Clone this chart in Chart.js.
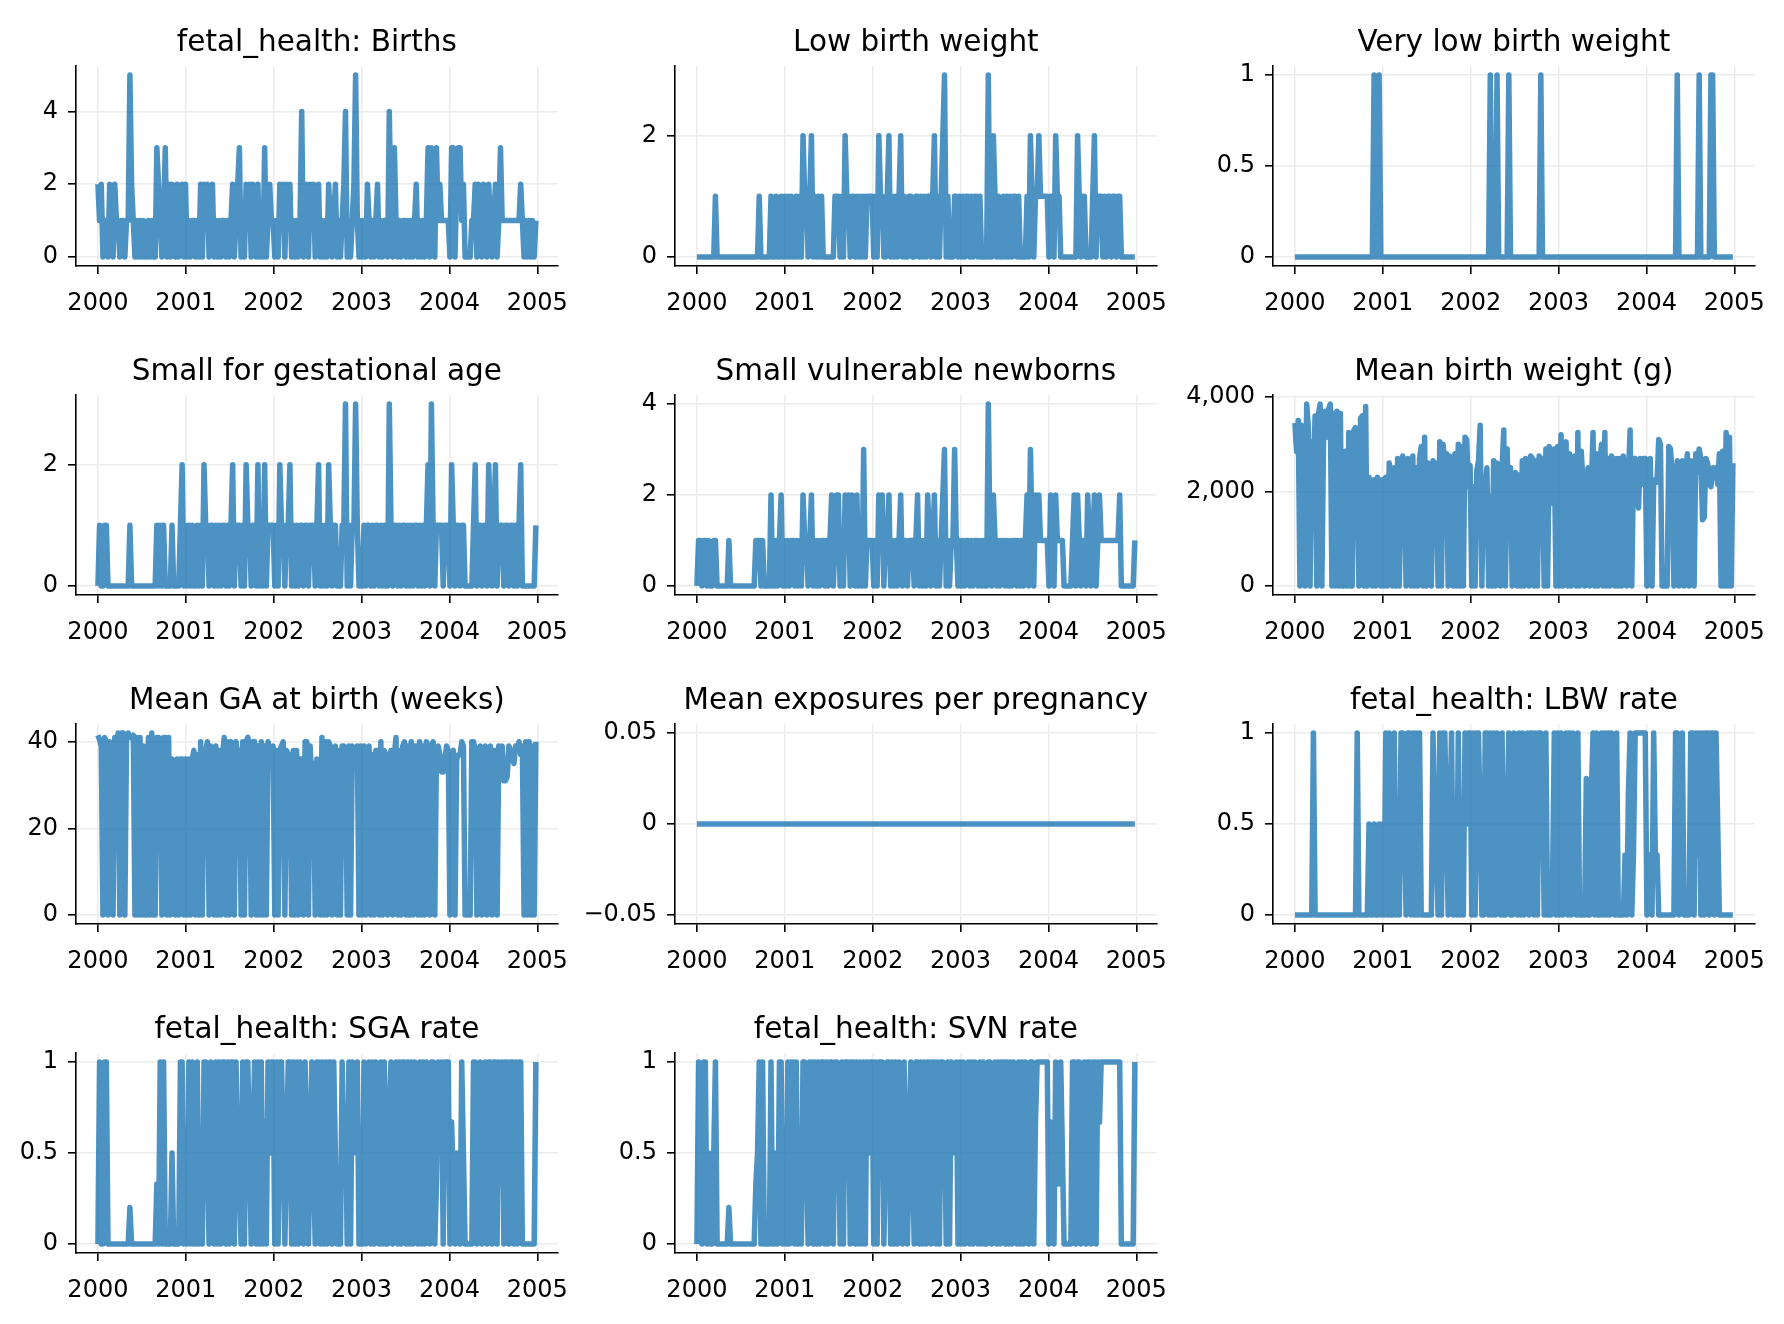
<!DOCTYPE html>
<html>
<head>
<meta charset="utf-8">
<title>fetal_health weekly series</title>
<script src="https://cdn.jsdelivr.net/npm/chart.js@4.4.1/dist/chart.umd.min.js"></script>
<style>
  html, body { margin: 0; padding: 0; background: #fff; overflow: hidden; }
  #page { position: relative; width: 1784px; height: 1324px; }
  #page canvas { position: absolute; }
</style>
</head>
<body>
<div id="page"></div>
<script>
// weekly values, one row per year (2000 ... 2004), last row has the closing week
const births = [
  2,1,2,0,1,1,0,2,1,0, 2,1,1,0,1,1,0,1,1,5, 2,1,0,1,0,1,0,1,0,0, 1,0,1,0,0,3,2,1,0,1, 3,0,2,0,2,1,0,2,0,1, 2,0,
  2,0,1,0,1,1,0,1,0,2, 0,2,1,2,0,1,2,0,1,0, 1,0,1,1,0,1,0,1,2,0, 1,2,3,0,1,0,2,1,2,0, 2,1,0,2,0,1,0,3,0,1, 2,1,
  1,0,1,0,2,1,2,0,2,1, 2,0,1,0,1,0,1,4,0,1, 2,0,2,1,2,0,1,2,0,1, 0,1,0,2,1,0,1,2,0,1, 0,1,2,4,0,1,0,1,2,5, 1,0,
  1,0,1,0,2,1,0,1,0,1, 2,0,1,0,1,1,0,4,1,0, 3,1,0,1,0,1,1,0,1,0, 1,0,1,2,0,1,0,1,0,1, 3,0,3,1,0,3,1,2,1,1, 1,1,
  1,0,3,3,0,2,3,3,1,2, 0,0,0,0,1,1,2,0,2,1, 0,2,1,0,2,1,0,1,2,0, 1,3,1,1,1,1,1,1,1,1, 1,1,1,2,1,0,1,0,1,0, 1,0,1
];

const lowBirthWeight = [
  0,0,0,0,0,0,0,0,0,0, 0,1,0,0,0,0,0,0,0,0, 0,0,0,0,0,0,0,0,0,0, 0,0,0,0,0,0,0,1,0,0, 0,0,0,0,1,0,0,1,0,0, 1,0,
  1,0,1,0,1,0,0,1,0,1, 0,2,1,1,0,1,2,0,1,0, 1,0,1,0,0,0,0,0,0,0, 1,1,1,0,1,0,2,1,1,0, 1,1,0,1,0,1,0,1,0,1, 1,1,
  1,0,1,0,2,1,1,0,0,1, 2,0,1,0,1,0,1,2,0,1, 0,0,1,1,0,0,1,1,0,1, 0,1,0,1,1,0,1,2,0,1, 0,1,2,3,0,1,0,0,0,1, 1,0,
  1,0,1,0,1,1,0,1,0,1, 1,0,1,0,0,0,0,3,0,0, 2,1,0,1,0,0,1,0,1,0, 1,0,1,1,0,1,0,0,0,0, 1,0,2,1,0,1,1,2,1,1, 1,1,
  1,0,1,1,0,2,1,1,0,0, 0,0,0,0,0,0,0,0,2,1, 0,1,1,0,0,0,0,1,2,0, 1,1,1,0,1,0,1,1,0,1, 1,0,1,1,0,0,0,0,0,0, 0,0,0
];

const veryLowBirthWeight = [
  0,0,0,0,0,0,0,0,0,0, 0,0,0,0,0,0,0,0,0,0, 0,0,0,0,0,0,0,0,0,0, 0,0,0,0,0,0,0,0,0,0, 0,0,0,0,0,0,0,1,0,0, 1,0,
  0,0,0,0,0,0,0,0,0,0, 0,0,0,0,0,0,0,0,0,0, 0,0,0,0,0,0,0,0,0,0, 0,0,0,0,0,0,0,0,0,0, 0,0,0,0,0,0,0,0,0,0, 0,0,
  0,0,0,0,0,0,0,0,0,0, 0,0,1,0,0,0,1,0,0,0, 0,0,0,1,0,0,0,0,0,0, 0,0,0,0,0,0,0,0,0,0, 0,0,1,0,0,0,0,0,0,0, 0,0,
  0,0,0,0,0,0,0,0,0,0, 0,0,0,0,0,0,0,0,0,0, 0,0,0,0,0,0,0,0,0,0, 0,0,0,0,0,0,0,0,0,0, 0,0,0,0,0,0,0,0,0,0, 0,0,
  0,0,0,0,0,0,0,0,0,0, 0,0,0,0,0,0,0,0,0,1, 0,0,0,0,0,0,0,0,0,0, 0,0,1,0,0,0,0,0,0,1, 1,0,0,0,0,0,0,0,0,0, 0,0,0
];

const smallForGA = [
  0,1,0,0,1,1,0,0,0,0, 0,0,0,0,0,0,0,0,0,1, 0,0,0,0,0,0,0,0,0,0, 0,0,0,0,0,1,0,1,0,1, 0,0,0,0,1,0,0,0,0,1, 2,0,
  1,0,1,0,1,0,0,1,0,1, 0,2,1,1,0,1,1,0,1,0, 1,0,1,1,0,1,0,1,2,0, 1,1,1,0,1,0,2,1,1,0, 1,1,0,2,0,1,0,2,0,1, 1,1,
  1,0,1,0,2,1,1,0,1,1, 2,0,1,0,1,0,1,1,0,1, 1,0,1,1,1,0,1,2,0,1, 0,1,0,2,1,0,1,1,0,0, 0,1,1,3,0,1,0,1,1,3, 1,0,
  0,0,1,0,1,1,0,1,0,1, 1,0,1,0,1,0,0,3,1,0, 1,1,0,1,0,1,1,0,1,0, 1,0,1,1,0,1,0,1,0,1, 2,0,3,1,0,1,1,1,1,0, 1,1,
  1,0,2,1,0,1,1,0,1,1, 0,0,0,0,0,1,2,0,1,1, 0,1,1,0,2,1,0,1,2,0, 1,1,1,0,1,1,0,1,1,0, 1,0,1,2,0,0,0,0,0,0, 0,0,1
];

const smallVulnerable = [
  0,1,1,0,1,1,0,1,0,0, 1,1,0,0,0,0,0,0,0,1, 0,0,0,0,0,0,0,0,0,0, 0,0,0,0,0,1,1,1,0,1, 0,0,0,0,2,0,0,1,0,1, 2,0,
  1,0,1,0,1,1,0,1,0,1, 0,2,1,1,0,1,2,0,1,0, 1,0,1,1,0,1,0,1,2,0, 1,2,2,0,1,0,2,1,2,0, 2,1,0,2,0,1,0,3,0,1, 1,1,
  1,0,1,0,2,1,2,0,1,1, 2,0,1,0,1,0,1,2,0,1, 1,0,1,1,1,0,1,2,0,1, 0,1,0,2,1,0,1,2,0,1, 0,1,2,3,0,1,0,1,1,3, 1,0,
  1,0,1,0,1,1,0,1,0,1, 1,0,1,0,1,0,0,4,1,0, 2,1,0,1,0,1,1,0,1,0, 1,0,1,1,0,1,0,1,0,1, 2,0,3,1,0,2,1,2,1,1, 1,1,
  1,0,2,1,0,2,1,1,1,1, 0,0,0,0,0,1,2,0,2,1, 0,1,1,0,2,1,0,1,2,0, 1,2,1,1,1,1,1,1,1,1, 1,1,1,2,0,0,0,0,0,0, 0,0,1
];

const meanBirthWeight = [
  3450,2850,3500,0,3400,3300,0,3850,3350,0, 3050,2400,3600,0,3650,3850,0,3100,3700,3150,
  3750,3850,0,3650,0,3700,0,3650,0,0, 2850,0,3250,0,0,3300,3350,2400,0,3550,
  3600,0,3800,0,2300,2050,0,2250,0,2300, 2200,0,
  2250,0,2300,0,2600,2350,0,2500,0,2700, 0,2450,2750,2300,0,2700,2650,0,2750,0,
  2500,0,2700,2950,0,3150,0,2600,2550,0, 2650,2600,2100,0,3050,0,3000,2600,2800,0,
  2750,2650,0,2800,0,3000,0,2950,0,3150, 3100,2100,
  2550,0,2100,0,2450,2650,3400,0,2200,2100, 2500,0,1900,0,2650,0,2600,2250,0,2500,
  3300,0,2900,1300,2500,0,2300,2400,0,2350, 0,2650,0,2700,2650,0,2750,2700,0,2650,
  0,2750,2700,2200,0,2900,0,2950,2850,1750, 2900,0,
  2950,0,3200,0,2900,3050,0,2800,0,2150, 2750,0,3250,0,2850,2200,0,1900,2500,0,
  2100,3250,0,2800,0,2500,3000,0,3250,0, 2700,0,2750,2650,0,2700,0,2700,0,2750,
  2400,0,2300,3300,0,2500,2700,2600,1650,2700, 2150,2700,
  2700,0,2100,2700,0,2150,2250,2200,3100,3000, 0,0,0,0,2950,2900,2300,0,2150,2650,
  0,2200,2650,0,2300,2800,0,2650,2200,0, 2800,2400,2900,2700,1400,1450,2700,2600,2150,2100,
  2500,2400,2500,2150,2800,0,2850,0,3250,0, 3150,0,2600
];

const meanGA = [
  41.5,40.5,39,0,41,40,0,40,39,0, 41,38,42,0,42,42,0,41,42,41, 41,41.5,0,41,0,41,0,39,0,0,
  41,0,42,0,0,41,41,39,0,41, 41,0,41,0,36,35,0,36,0,36, 36,0,
  36,0,36,0,36,38,0,37,0,40, 0,38,38,40,0,39,38,0,39,0, 38,0,37,41,0,40,0,40,38,0,
  40,37,38,0,40,0,40,41,39,0, 40,40,0,39,0,40,0,39,0,40, 38,38,
  39,0,38,0,38,39,40,0,38,37, 37,0,38,0,38,0,36,36,0,40, 40,0,39,31,35,0,36,35,0,41,
  0,40,0,40,39,0,38,39,0,38, 0,39,39,37,0,39,0,39,38,36, 39,0,
  39,0,39,0,38,39,0,37,0,38, 38,0,40,0,38,37,0,35,38,0, 37,41,0,38,0,39,40,0,39,0,
  40,0,39,39,0,40,0,39,0,40, 39,0,39,40,0,38,39,37,33,33, 36,39,
  38,0,37,38,0,36,37,37,40,39, 0,0,0,0,40,40,38,0,38,39, 0,38,39,0,38,39,0,38,38,0,
  39,37,39,31,31,32,39,38,36,35, 39,38,40,37,39,0,40,0,40,0, 39,0,40
];

const meanExposures = [
  0,0,0,0,0,0,0,0,0,0, 0,0,0,0,0,0,0,0,0,0, 0,0,0,0,0,0,0,0,0,0, 0,0,0,0,0,0,0,0,0,0, 0,0,0,0,0,0,0,0,0,0, 0,0,
  0,0,0,0,0,0,0,0,0,0, 0,0,0,0,0,0,0,0,0,0, 0,0,0,0,0,0,0,0,0,0, 0,0,0,0,0,0,0,0,0,0, 0,0,0,0,0,0,0,0,0,0, 0,0,
  0,0,0,0,0,0,0,0,0,0, 0,0,0,0,0,0,0,0,0,0, 0,0,0,0,0,0,0,0,0,0, 0,0,0,0,0,0,0,0,0,0, 0,0,0,0,0,0,0,0,0,0, 0,0,
  0,0,0,0,0,0,0,0,0,0, 0,0,0,0,0,0,0,0,0,0, 0,0,0,0,0,0,0,0,0,0, 0,0,0,0,0,0,0,0,0,0, 0,0,0,0,0,0,0,0,0,0, 0,0,
  0,0,0,0,0,0,0,0,0,0, 0,0,0,0,0,0,0,0,0,0, 0,0,0,0,0,0,0,0,0,0, 0,0,0,0,0,0,0,0,0,0, 0,0,0,0,0,0,0,0,0,0, 0,0,0
];

const lbwRate = [
  0,0,0,0,0,0,0,0,0,0, 0,1,0,0,0,0,0,0,0,0, 0,0,0,0,0,0,0,0,0,0, 0,0,0,0,0,0,0,1,0,0, 0,0,0,0,0.5,0,0,0.5,0,0, 0.5,0,
  0.5,0,1,0,1,0,0,1,0,0.5, 0,1,1,0.5,0,1,1,0,1,0, 1,0,1,0,0,0,0,0,0,0, 1,0.5,0.33,0,1,0,1,1,0.5,0, 0.5,1,0,0.5,0,1,0,0.33,0,1, 0.5,1,
  1,0,1,0,1,1,0.5,0,0,1, 1,0,1,0,1,0,1,0.5,0,1, 0,0,0.5,1,0,0,1,0.5,0,1, 0,1,0,0.5,1,0,1,1,0,1, 0,1,1,0.75,0,1,0,0,0,0.2, 1,0,
  1,0,1,0,0.5,1,0,1,0,1, 0.5,0,1,0,0,0,0,0.75,0,0, 0.67,1,0,1,0,0,1,0,1,0, 1,0,1,0.5,0,1,0,0,0,0, 0.33,0,0.67,1,0,0.33,1,1,1,1, 1,1,
  1,0,0.33,0.33,0,1,0.33,0.33,0,0, 0,0,0,0,0,0,0,0,1,1, 0,0.5,1,0,0,0,0,1,1,0, 1,0.33,1,0,1,0,1,1,0,1, 1,0,1,0.5,0,0,0,0,0,0, 0,0,0
];

const sgaRate = [
  0,1,0,0,1,1,0,0,0,0, 0,0,0,0,0,0,0,0,0,0.2, 0,0,0,0,0,0,0,0,0,0, 0,0,0,0,0,0.33,0,1,0,1, 0,0,0,0,0.5,0,0,0,0,1, 1,0,
  0.5,0,1,0,1,0,0,1,0,0.5, 0,1,1,0.5,0,1,0.5,0,1,0, 1,0,1,1,0,1,0,1,1,0, 1,0.5,0.33,0,1,0,1,1,0.5,0, 0.5,1,0,1,0,1,0,0.67,0,1, 0.5,1,
  1,0,1,0,1,1,0.5,0,0.5,1, 1,0,1,0,1,0,1,0.25,0,1, 0.5,0,0.5,1,0.5,0,1,1,0,1, 0,1,0,1,1,0,1,0.5,0,0, 0,1,0.5,0.75,0,1,0,1,0.5,0.6, 1,0,
  0,0,1,0,0.5,1,0,1,0,1, 0.5,0,1,0,1,0,0,0.75,1,0, 0.33,1,0,1,0,1,1,0,1,0, 1,0,1,0.5,0,1,0,1,0,1, 0.67,0,1,1,0,0.33,1,0.5,1,0, 1,1,
  1,0,0.67,0.33,0,0.5,0.33,0,1,0.5, 0,0,0,0,0,1,1,0,0.5,1, 0,0.5,1,0,1,1,0,1,1,0, 1,0.33,1,0,1,1,0,1,1,0, 1,0,1,1,0,0,0,0,0,0, 0,0,1
];

const svnRate = [
  0,1,0.5,0,1,1,0,0.5,0,0, 0.5,1,0,0,0,0,0,0,0,0.2, 0,0,0,0,0,0,0,0,0,0, 0,0,0,0,0,0.33,0.5,1,0,1, 0,0,0,0,1,0,0,0.5,0,1, 1,0,
  0.5,0,1,0,1,1,0,1,0,0.5, 0,1,1,0.5,0,1,1,0,1,0, 1,0,1,1,0,1,0,1,1,0, 1,1,0.67,0,1,0,1,1,1,0, 1,1,0,1,0,1,0,1,0,1, 0.5,1,
  1,0,1,0,1,1,1,0,0.5,1, 1,0,1,0,1,0,1,0.5,0,1, 0.5,0,0.5,1,0.5,0,1,1,0,1, 0,1,0,1,1,0,1,1,0,1, 0,1,1,0.75,0,1,0,1,0.5,0.6, 1,0,
  1,0,1,0,0.5,1,0,1,0,1, 0.5,0,1,0,1,0,0,1,1,0, 0.67,1,0,1,0,1,1,0,1,0, 1,0,1,0.5,0,1,0,1,0,1, 0.67,0,1,1,0,0.67,1,1,1,1, 1,1,
  1,0,0.67,0.33,0,1,0.33,0.33,1,0.5, 0,0,0,0,0,1,1,0,1,1, 0,0.5,1,0,1,1,0,1,1,0, 1,0.67,1,1,1,1,1,1,1,1, 1,1,1,1,0,0,0,0,0,0, 0,0,1
];

// tick labels
const yearTicks = [2000, 2001, 2002, 2003, 2004, 2005];
const ticksCount5 = [0, 2, 4];
const ticksCount3 = [0, 2];
const ticksUnit = [0, 0.5, 1];
const ticksWeight = [0, 2000, 4000];
const ticksGA = [0, 20, 40];
const ticksExposure = [-0.05, 0, 0.05];

const titles = [
  'fetal_health: Births', 'Low birth weight', 'Very low birth weight',
  'Small for gestational age', 'Small vulnerable newborns', 'Mean birth weight (g)',
  'Mean GA at birth (weeks)', 'Mean exposures per pregnancy', 'fetal_health: LBW rate',
  'fetal_health: SGA rate', 'fetal_health: SVN rate'
];
const seriesList = [
  births, lowBirthWeight, veryLowBirthWeight,
  smallForGA, smallVulnerable, meanBirthWeight,
  meanGA, meanExposures, lbwRate,
  sgaRate, svnRate
];
const tickList = [
  ticksCount5, ticksCount3, ticksUnit,
  ticksCount3, ticksCount5, ticksWeight,
  ticksGA, ticksExposure, ticksUnit,
  ticksUnit, ticksUnit
];

// one point per week starting at the first week of 2000
const weekDates = births.map((_, i) => 2000 + i * 7 / 365.25);

Chart.defaults.font.family = '"DejaVu Sans", "Open Sans", sans-serif';

const LINE = 'rgba(31, 119, 180, 0.8)';
const GRID = '#ececec';
const COLS = [76, 675, 1273];
const ROWS = [66, 395, 724, 1053];
const AW = 484, AH = 200;
const PAD_L = 95, PAD_R = 24, PAD_T = 62, PAD_B = 62;
const TITLE_SIZE = 29.5, TITLE_GAP = 4.5;
const TICK_SIZE = 24;

function axisRange(values) {
  const lo = Math.min(...values), hi = Math.max(...values);
  if (lo === hi) return [lo - 0.055, hi + 0.055];
  const m = (hi - lo) * 0.05;
  return [lo - m, hi + m];
}

function fmtTick(v) {
  const s = Math.abs(v).toLocaleString('en-US');
  return v < 0 ? '\u2212' + s : s;
}

const xr = axisRange(weekDates);
const page = document.getElementById('page');

seriesList.forEach((values, idx) => {
  const col = idx % 3, row = Math.floor(idx / 3);
  const canvas = document.createElement('canvas');
  const w = PAD_L + AW + PAD_R, h = PAD_T + AH + PAD_B;
  canvas.width = w;
  canvas.height = h;
  canvas.style.width = w + 'px';
  canvas.style.height = h + 'px';
  canvas.style.left = (COLS[col] - PAD_L) + 'px';
  canvas.style.top = (ROWS[row] - PAD_T) + 'px';
  page.appendChild(canvas);

  const yr = axisRange(values);
  const yTicks = tickList[idx];
  const titleBox = TITLE_SIZE * 1.2 + TITLE_GAP;

  const gridOpts = { color: GRID, lineWidth: 1.6, tickColor: '#000', tickLength: 8, tickWidth: 1.6 };
  const borderOpts = { color: '#000', width: 1.6 };

  new Chart(canvas, {
    type: 'line',
    data: {
      datasets: [{
        data: values.map((v, i) => ({ x: weekDates[i], y: v })),
        borderColor: LINE,
        borderWidth: 5.5,
        pointRadius: 0,
        borderJoinStyle: 'round',
        tension: 0,
        fill: false
      }]
    },
    options: {
      responsive: false,
      animation: false,
      events: [],
      layout: { padding: { top: PAD_T - titleBox, right: PAD_R, left: 0, bottom: 0 } },
      plugins: {
        legend: { display: false },
        tooltip: { enabled: false },
        title: {
          display: true,
          text: titles[idx],
          fullSize: false,
          color: '#000',
          font: { size: TITLE_SIZE, weight: 'normal', lineHeight: 1.2 },
          padding: { top: 0, bottom: TITLE_GAP }
        }
      },
      scales: {
        x: {
          type: 'linear',
          min: xr[0],
          max: xr[1],
          afterBuildTicks: s => { s.ticks = yearTicks.map(v => ({ value: v })); },
          afterFit: s => { s.height = PAD_B; },
          ticks: { color: '#000', font: { size: TICK_SIZE }, padding: 15, maxRotation: 0, autoSkip: false, callback: v => String(v) },
          grid: gridOpts,
          border: borderOpts
        },
        y: {
          type: 'linear',
          min: yr[0],
          max: yr[1],
          afterBuildTicks: s => { s.ticks = yTicks.map(v => ({ value: v })); },
          afterFit: s => { s.width = PAD_L; },
          ticks: { color: '#000', font: { size: TICK_SIZE }, padding: 10, callback: v => fmtTick(v) },
          grid: gridOpts,
          border: borderOpts
        }
      }
    }
  });
});
</script>
</body>
</html>
